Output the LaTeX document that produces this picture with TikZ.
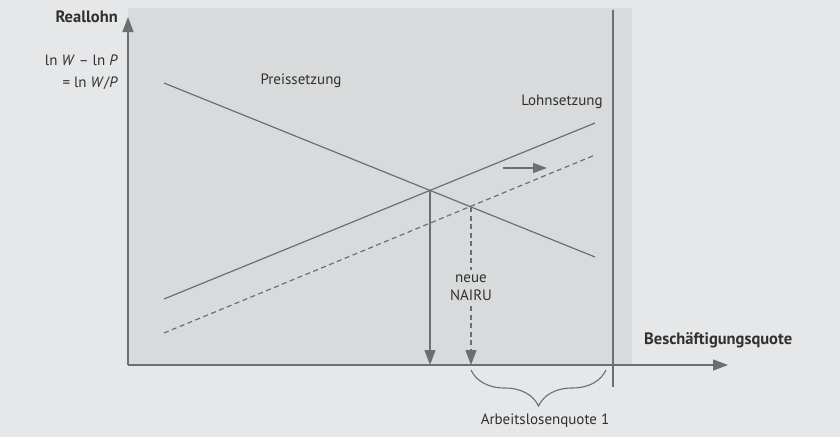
\documentclass[tikz,border=0pt]{standalone}
\usepackage{fontspec}
\setmainfont{PT Sans}
\usetikzlibrary{arrows.meta,decorations.pathreplacing}

\begin{document}
\begin{tikzpicture}[x=1pt, y=-1pt,
    axis/.style = {draw=lineGray, line width=1.3pt, -{Triangle[length=15pt,width=11pt]}},
    curve/.style = {draw=lineGray, line width=1.2pt},
    shifted/.style = {curve, dash pattern=on 5pt off 3.5pt},
    lbl/.style = {text=textGray, font=\fontsize{15}{18}\selectfont, inner sep=0pt},
    axislbl/.style = {lbl, font=\fontsize{16.5}{19}\selectfont\bfseries}
  ]
  % Colours
  \definecolor{bgGray}{HTML}{E6E7E8}
  \definecolor{panelGray}{HTML}{D9DADB}
  \definecolor{lineGray}{HTML}{6D6E70}
  \definecolor{textGray}{HTML}{303030}

  % Background and panel
  \fill[bgGray] (0,0) rectangle (840,437);
  \useasboundingbox (0,0) rectangle (840,437);
  \fill[panelGray] (128,8) rectangle (632,365);

  % Axes
  \coordinate (O) at (128,365);
  \coordinate (ytop) at (128,17);
  \coordinate (xend) at (728,365);
  \draw[axis] (O) -- (ytop);
  \draw[axis] (O) -- (xend);
  \coordinate (full1) at (613,10);
  \coordinate (full2) at (613,387);
  \draw[curve] (full1) -- (full2);

  % Axis labels
  \node[axislbl, anchor=east] (reallohn) at (118,17) {Reallohn};
  \node[lbl, anchor=east] (lnW) at (118,60) {ln \textit{W} – ln \textit{P}};
  \node[lbl, anchor=east] (lnWP) at (118,83) {= ln \textit{W}/\textit{P}};
  \node[axislbl, anchor=west] (besch) at (644,340) {Beschäftigungsquote};

  % Curves
  \coordinate (PS1) at (164,83);
  \coordinate (PS2) at (595,257);
  \coordinate (LS1) at (164,299);
  \coordinate (LS2) at (595,123);
  \coordinate (LSn1) at (164,333);
  \coordinate (LSn2) at (595,155);
  \draw[curve] (PS1) -- (PS2);
  \draw[curve] (LS1) -- (LS2);
  \draw[shifted] (LSn1) -- (LSn2);
  \node[lbl] (preis) at (301,81) {Preissetzung};
  \node[lbl] (lohn) at (562,102) {Lohnsetzung};

  % Shift arrow
  \coordinate (sh1) at (503,168);
  \coordinate (sh2) at (547,168);
  \draw[axis, -{Triangle[length=14pt,width=10pt]}] (sh1) -- (sh2);

  % Equilibria
  \coordinate (E1) at (430,190);
  \coordinate (E1x) at (430,365);
  \draw[axis, line width=1.2pt] (E1) -- (E1x);
  \coordinate (E2) at (471,207);
  \coordinate (E2x) at (471,365);
  \node[lbl, align=center] (nairu) at (471,288) {neue\\NAIRU};
  \draw[shifted] (E2) -- ([yshift=5pt]nairu.north);
  \draw[shifted, -{Triangle[length=15pt,width=11pt]}] ([yshift=-5pt]nairu.south) -- (E2x);

  % Unemployment brace
  \coordinate (br1) at (471,370);
  \coordinate (br2) at (606,370);
  \draw[curve, line width=1.1pt, decorate, decoration={brace, mirror, amplitude=36pt}] (br1) -- (br2);
  \node[lbl] (alq) at (545,421) {Arbeitslosenquote 1};
\end{tikzpicture}
\end{document}
